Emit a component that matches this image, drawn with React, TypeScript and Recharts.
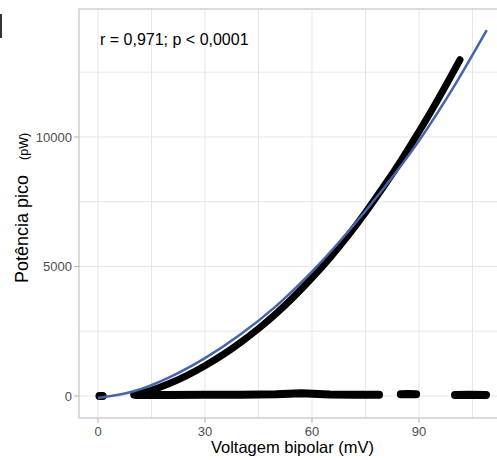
import { ComposedChart, Line, XAxis, YAxis, CartesianGrid, ReferenceArea, Label } from 'recharts';

// upper branch of the scatter (bipolar voltage vs peak power)
const curveX = [10, 15, 20, 25, 30, 35, 40, 45, 50, 55, 60, 65, 70, 75, 80, 85, 90, 95, 101.5];
const curveY = [40, 220, 480, 800, 1170, 1590, 2070, 2600, 3190, 3840, 4555, 5330, 6170, 7085, 8065, 9100, 10205, 11370, 12980];

// points lying near zero (null = gap in the data)
const baseX = [0.4, 1.3, 5, 10.7, 20, 30, 40, 50, 57, 65, 72, 78.8, 82, 84.9, 87, 89.2, 95, 100.1, 104, 108.8];
const baseY = [0, 0, null, 40, 40, 45, 50, 70, 110, 60, 50, 50, null, 70, 80, 70, null, 40, 50, 40];

// fitted curve
const fitX = [0, 10, 20, 30, 40, 50, 60, 70, 80, 90, 100, 109];
const fitY = [-80, 180, 720, 1460, 2380, 3480, 4800, 6320, 8000, 9850, 11990, 14120];

const xTicks = [0, 30, 60, 90];
const yTicks = [0, 5000, 10000];
const xGrid = [0, 15, 30, 45, 60, 75, 90, 105];
const yGrid = [0, 2500, 5000, 7500, 10000, 12500];

const xDomain = [-5.33, 114.4];
const yDomain = [-850, 14940];

const curveData = curveX.map((x, i) => ({ x, y: curveY[i] }));
const baseData = baseX.map((x, i) => ({ x, y: baseY[i] }));
const fitData = fitX.map((x, i) => ({ x, y: fitY[i] }));

const YTitle = () => (
  <text x={28} y={283} transform="rotate(-90 28 283)" fontSize={18} fill="#000">
    <tspan>Potência pico</tspan>
    <tspan dx={15} fontSize={12.5}>(pW)</tspan>
  </text>
);

export default function App() {
  return (
    <div
      style={{
        position: 'absolute',
        left: 0,
        top: 0,
        width: 497,
        height: 460,
        overflow: 'hidden',
        background: '#fff',
        fontFamily: '"Liberation Sans", Arial, sans-serif'
      }}
    >
      <div style={{ position: 'absolute', left: 0, top: 14, width: 2, height: 24, background: '#333' }} />
      <ComposedChart width={520} height={460} margin={{ top: 9, right: 14, bottom: 0, left: 0 }}>
        <CartesianGrid
          stroke="#e6e6e6"
          horizontalValues={yGrid}
          verticalValues={xGrid}
        />
        <XAxis
          type="number"
          dataKey="x"
          domain={xDomain}
          ticks={xTicks}
          allowDataOverflow
          interval={0}
          axisLine={false}
          tickLine={{ stroke: '#b3b3b3' }}
          tickSize={5}
          tickMargin={4}
          tick={{ fill: '#4d4d4d', fontSize: 13 }}
          height={42}
        >
          <Label value="Voltagem bipolar (mV)" position="insideBottom" offset={7} fontSize={16.5} fill="#000" />
        </XAxis>
        <YAxis
          type="number"
          dataKey="y"
          domain={yDomain}
          ticks={yTicks}
          allowDataOverflow
          interval={0}
          axisLine={false}
          tickLine={{ stroke: '#b3b3b3' }}
          tickSize={5}
          tickMargin={2}
          tick={{ fill: '#4d4d4d', fontSize: 13 }}
          width={79}
        >
          <Label content={YTitle} />
        </YAxis>
        <ReferenceArea
          x1={xDomain[0]}
          x2={xDomain[1]}
          y1={yDomain[0]}
          y2={yDomain[1]}
          fill="none"
          stroke="#d0d0d0"
          strokeWidth={1.5}
          ifOverflow="visible"
        />
        <Line
          data={baseData}
          dataKey="y"
          type="linear"
          stroke="#000"
          strokeWidth={8}
          strokeLinecap="round"
          strokeLinejoin="round"
          dot={false}
          connectNulls={false}
          isAnimationActive={false}
        />
        <Line
          data={curveData}
          dataKey="y"
          type="monotone"
          stroke="#000"
          strokeWidth={7}
          strokeLinecap="round"
          strokeLinejoin="round"
          dot={false}
          isAnimationActive={false}
        />
        <Line
          data={fitData}
          dataKey="y"
          type="monotone"
          stroke="#4565a8"
          strokeWidth={2.5}
          dot={false}
          isAnimationActive={false}
        />
      </ComposedChart>
      <svg width={497} height={460} style={{ position: 'absolute', left: 0, top: 0, pointerEvents: 'none' }}>
        <text x={100} y={45} fontSize={16} fill="#000">
          r = 0,971; p &lt; 0,0001
        </text>
      </svg>
    </div>
  );
}
